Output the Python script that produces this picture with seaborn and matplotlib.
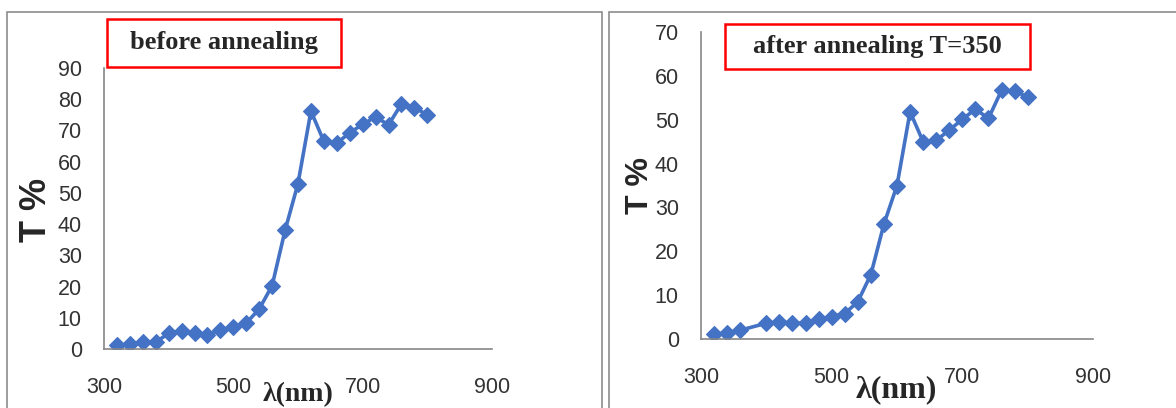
import matplotlib
matplotlib.use("Agg")
import matplotlib.pyplot as plt
from matplotlib.patches import Rectangle
import seaborn as sns
import pandas as pd

# Data
wl_before = [320, 340, 360, 380, 400, 420, 440, 460, 480, 500, 520, 540, 560,
             580, 600, 620, 640, 660, 680, 700, 720, 740, 760, 780, 800]
T_before = [1.2, 1.5, 2.3, 2.2, 5.0, 5.8, 5.0, 4.5, 6.0, 7.2, 8.3, 12.8, 20.3,
            38.0, 53.0, 76.2, 66.5, 66.0, 69.2, 72.0, 74.3, 71.8, 78.5, 77.3, 75.0]
wl_after = [320, 340, 360, 400, 420, 440, 460, 480, 500, 520, 540, 560,
            580, 600, 620, 640, 660, 680, 700, 720, 740, 760, 780, 800]
T_after = [1.1, 1.4, 2.0, 3.6, 3.9, 3.6, 3.6, 4.5, 5.1, 5.8, 8.5, 14.7,
           26.2, 35.0, 51.8, 45.0, 45.3, 47.6, 50.1, 52.4, 50.3, 56.7, 56.5, 55.2]
titles = ["before annealing", "after annealing T=350"]
xticks = [300, 500, 700, 900]
yticks_before = [0, 10, 20, 30, 40, 50, 60, 70, 80, 90]
yticks_after = [0, 10, 20, 30, 40, 50, 60, 70]

sns.set_style("white")
plt.rcParams['font.family'] = ['Liberation Sans', 'DejaVu Sans']

W, H = 1176, 408
fig = plt.figure(figsize=(W / 100, H / 100), dpi=100)

def fx(px):
    return px / W

def fy(py):
    return 1 - py / H

# panel borders
for x0, x1 in [(7, 602), (609, 1185)]:
    fig.patches.append(Rectangle((fx(x0), fy(420)), fx(x1 - x0), (420 - 12) / H,
                                 transform=fig.transFigure, fill=False,
                                 edgecolor="#8c8c8c", linewidth=1.2, zorder=0))

blue = "#4472C4"
grey = "#868686"
tickcol = "#333333"

specs = [
    dict(rect=[fx(104), fy(349), fx(492 - 104), (349 - 68) / H], x=wl_before, y=T_before,
         yticks=yticks_before, ylim=(0, 90), title=titles[0],
         box=(107, 19, 341, 67), ylab_x=37, ylab_y=210, ylab_size=26,
         xlab_x=298, xlab_y=395, xlab_size=20),
    dict(rect=[fx(701), fy(339), fx(1093 - 701), (339 - 32) / H], x=wl_after, y=T_after,
         yticks=yticks_after, ylim=(0, 70), title=titles[1],
         box=(725, 24, 1030, 69), ylab_x=640, ylab_y=186, ylab_size=23,
         xlab_x=896, xlab_y=390, xlab_size=23),
]

for s in specs:
    ax = fig.add_axes(s["rect"])
    df = pd.DataFrame({"wl": s["x"], "T": s["y"]})
    sns.lineplot(data=df, x="wl", y="T", ax=ax, color=blue, linewidth=2.6,
                 marker="D", markersize=8, markeredgecolor=blue, markeredgewidth=0.8)
    ax.set_xlim(300, 900)
    ax.set_ylim(*s["ylim"])
    ax.set_xticks(xticks)
    ax.set_yticks(s["yticks"])
    for sp in ["top", "right"]:
        ax.spines[sp].set_visible(False)
    for sp in ["left", "bottom"]:
        ax.spines[sp].set_color(grey)
        ax.spines[sp].set_linewidth(1.2)
    ax.tick_params(axis="both", direction="out", length=6, width=1.2, color=grey,
                   labelsize=15.5, labelcolor=tickcol)
    ax.tick_params(axis="x", pad=14)
    ax.tick_params(axis="y", pad=10)
    ax.set_xlabel("")
    ax.set_ylabel("")
    # axis labels
    fig.text(fx(s["ylab_x"]), fy(s["ylab_y"]), "T %", rotation=90, ha="center", va="center",
             fontsize=s["ylab_size"], fontweight="bold", family=["Liberation Sans", "DejaVu Sans"])
    fig.text(fx(s["xlab_x"]), fy(s["xlab_y"]), "λ(nm)", ha="center", va="center",
             fontsize=s["xlab_size"], fontweight="bold", family=["Liberation Serif", "DejaVu Serif"])
    # title box
    bx0, by0, bx1, by1 = s["box"]
    fig.patches.append(Rectangle((fx(bx0), fy(by1)), fx(bx1 - bx0), (by1 - by0) / H,
                                 transform=fig.transFigure, fill=True, facecolor="white",
                                 edgecolor="#ff0000", linewidth=1.8, zorder=5))
    fig.text(fx((bx0 + bx1) / 2), fy((by0 + by1) / 2), s["title"], ha="center", va="center",
             fontsize=19, fontweight="bold", family=["Liberation Serif", "DejaVu Serif"], zorder=6)

fig.savefig("out.png", dpi=100)
